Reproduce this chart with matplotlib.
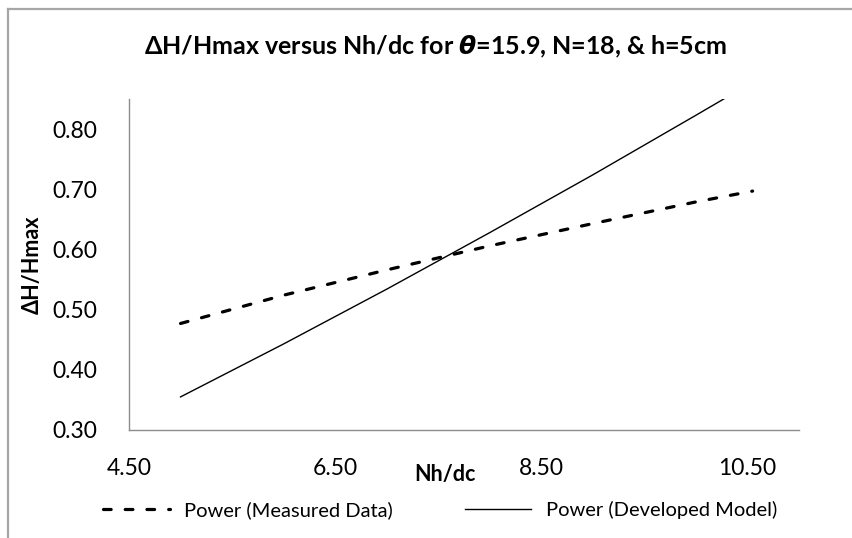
import matplotlib
matplotlib.use("Agg")
import matplotlib.pyplot as plt
from matplotlib.lines import Line2D

plt.rcParams['font.family'] = ['Lato', 'DejaVu Sans']
plt.rcParams['mathtext.fontset'] = 'dejavusans'

# values
x_measured = [5.0, 6.0, 7.0, 8.0, 9.0, 10.0, 10.55]
y_measured = [0.477, 0.524, 0.566, 0.606, 0.643, 0.679, 0.697]
x_model = [5.0, 6.0, 7.0, 8.0, 9.0, 10.0, 10.55]
y_model = [0.355, 0.443, 0.534, 0.628, 0.724, 0.823, 0.878]

x_ticks = [4.5, 6.5, 8.5, 10.5]
y_ticks = [0.30, 0.40, 0.50, 0.60, 0.70, 0.80]

W, H = 853, 538
fig = plt.figure(figsize=(W / 100, H / 100), dpi=100)
ax = fig.add_axes([129 / W, 1 - 430 / H, (799 - 129) / W, (430 - 99) / H])

ax.plot(x_measured, y_measured, color='black', lw=2.3, ls=(0, (2.4, 4.4)),
        dash_capstyle='round', label='Power (Measured Data)')
ax.plot(x_model, y_model, color='black', lw=1.0, label='Power (Developed Model)')

ax.set_xlim(4.5, 11.0)
ax.set_ylim(0.30, 0.85)
ax.set_xticks(x_ticks)
ax.set_xticklabels(['%.2f' % v for v in x_ticks])
ax.set_yticks(y_ticks)
ax.set_yticklabels(['%.2f' % v for v in y_ticks])
ax.tick_params(length=0, labelsize=16.5, colors='black')
ax.tick_params(axis='y', pad=23)
ax.tick_params(axis='x', pad=20)

for s in ['top', 'right']:
    ax.spines[s].set_visible(False)
for s in ['left', 'bottom']:
    ax.spines[s].set_color('#8c8c8c')
    ax.spines[s].set_linewidth(1.0)

fig.text(436 / W, 1 - 47 / H,
         r'ΔH/Hmax versus Nh/dc for $\mathbfit{\theta}$=15.9, N=18, & h=5cm',
         ha='center', va='center', fontsize=18, fontweight='bold')
fig.text(32 / W, 1 - 265 / H, 'ΔH/Hmax', rotation=90, ha='center', va='center',
         fontsize=15.5, fontweight='bold')
fig.text(445 / W, 1 - 474 / H, 'Nh/dc', ha='center', va='center',
         fontsize=15.5, fontweight='bold')

fig.legend(loc='center', bbox_to_anchor=(440 / W, 1 - 510 / H), ncol=2,
           frameon=False, fontsize=14.5, handlelength=3.3, columnspacing=3.6,
           handletextpad=0.7)

# chart area border (cut off at right and bottom)
fig.add_artist(Line2D([8 / W, 8 / W], [0, 1 - 9 / H], transform=fig.transFigure,
                      color='#a6a6a6', lw=1.6))
fig.add_artist(Line2D([8 / W, 1], [1 - 9 / H, 1 - 9 / H], transform=fig.transFigure,
                      color='#a6a6a6', lw=1.6))

fig.savefig('out.png', dpi=100, facecolor='white')
